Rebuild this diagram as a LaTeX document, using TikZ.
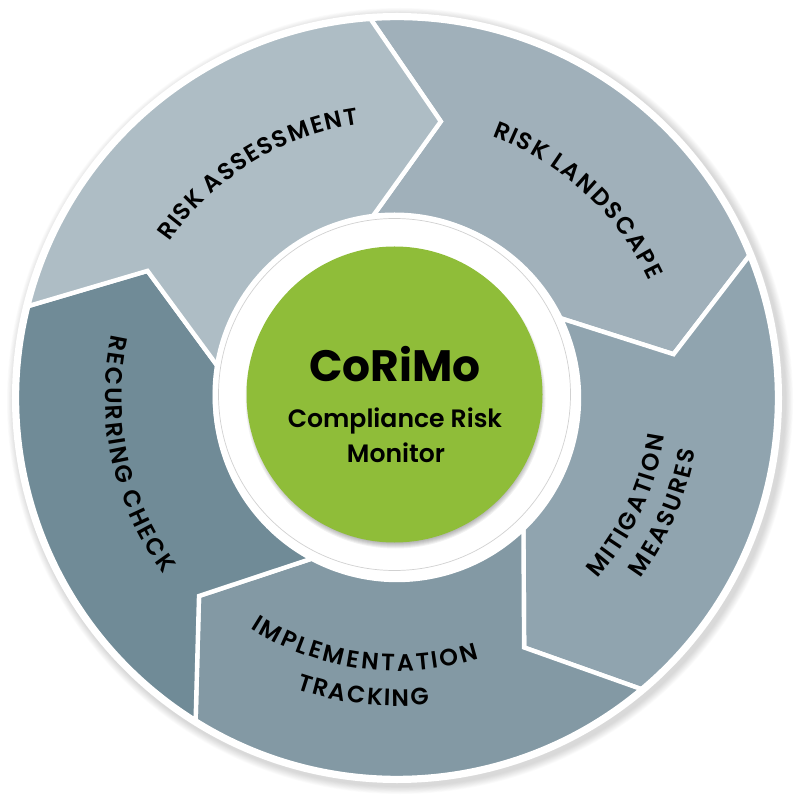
\documentclass[tikz,border=0pt]{standalone}
\usepackage{fontspec}
\setmainfont{Poppins}
\usetikzlibrary{decorations.text,calc}
\definecolor{segassess}{RGB}{174,189,197}
\definecolor{seglandscape}{RGB}{160,176,186}
\definecolor{segmitigate}{RGB}{144,164,175}
\definecolor{segimplement}{RGB}{131,153,164}
\definecolor{segrecur}{RGB}{112,139,151}
\definecolor{corigreen}{RGB}{143,189,57}
\IfFontExistsTF{Poppins SemiBold}
  {\newfontfamily\hubfont{Poppins SemiBold}}
  {\newfontfamily\hubfont{Poppins}[UprightFeatures={FakeBold=1.2}]}
\newcommand\lblset{\hubfont\fontsize{13.5pt}{15pt}\selectfont}
\pgfdeclareradialshading{ringshade}{\pgfpointorigin}{color(0bp)=(white); color(42bp)=(white); color(47bp)=(black!12); color(50bp)=(black!25)}

\begin{document}
\begin{tikzpicture}[
    x=0.02cm, y=0.02cm,
    seg/.style={draw=white, line width=2.5pt, line join=miter},
    lbl/.style={decorate, decoration={text effects along path, text={#1},
      text effects/.cd, characters={font=\lblset, text=black, inner sep=0pt, anchor=base, transform shape},
      text along path, fit text to path}},
    title/.style={anchor=base, inner sep=0pt, font=\bfseries\fontsize{25pt}{28pt}\selectfont},
    subtitle/.style={anchor=base, inner sep=0pt, font=\hubfont\fontsize{14.3pt}{17pt}\selectfont}
]
\useasboundingbox (-397,-402) rectangle (403,398);

% outer rim with soft shadow
\foreach \i in {1,...,10}
  \fill[black, opacity=0.015] (3,-3) circle (385+\i*0.8);
\fill[white] (0,0) circle (385);

% five chevron segments, clockwise from the top right
\foreach \k/\col in {0/seglandscape,1/segmitigate,2/segimplement,3/segrecur,4/segassess}{
  \pgfmathsetmacro{\ia}{98-72*\k}
  \pgfmathsetmacro{\ta}{81-72*\k}
  \pgfmathsetmacro{\oa}{94-72*\k}
  \filldraw[seg, fill=\col] (\ia:182) -- (\ta:280) -- (\oa:380)
    arc[start angle=\oa, end angle=\oa-72, radius=380]
    -- (\ta-72:280) -- (\ia-72:182)
    arc[start angle=\ia-72, end angle=\ia, radius=182] -- cycle;
}

% hub
\coordinate (hub) at (-2.5,3.5);
\fill[white] (hub) circle (182);
\shade[shading=ringshade] (hub) circle (176);
\draw[black!18, line width=0.4pt] (hub) circle (176);
\foreach \i in {1,...,6}
  \fill[black, opacity=0.05] ($(hub)+(1,-4)$) circle (144+\i);
\fill[corigreen] (hub) circle (148);

\node[title] (corimo) at (-2,16) {CoRiMo};
\node[subtitle] (compl) at (-2,-30) {Compliance Risk};
\node[subtitle] (monitor) at (-1,-65) {Monitor};

% labels on arcs
\path[lbl={RISK ASSESSMENT}] (145.5:276) arc[start angle=145.5, end angle=98, radius=276];
\path[lbl={RISK LANDSCAPE}] (70:278) arc[start angle=70, end angle=25, radius=278];
\path[lbl={MITIGATION}] (-42:270) arc[start angle=-42, end angle=-8, radius=270];
\path[lbl={MEASURES}] (-36.5:303) arc[start angle=-36.5, end angle=-10, radius=303];
\path[lbl={IMPLEMENTATION}] (-122.5:273) arc[start angle=-122.5, end angle=-72.5, radius=273];
\path[lbl={TRACKING}] (-109:308) arc[start angle=-109, end angle=-84, radius=308];
\path[lbl={RECURRING CHECK}] (167.5:292) arc[start angle=167.5, end angle=217, radius=292];

\end{tikzpicture}
\end{document}
